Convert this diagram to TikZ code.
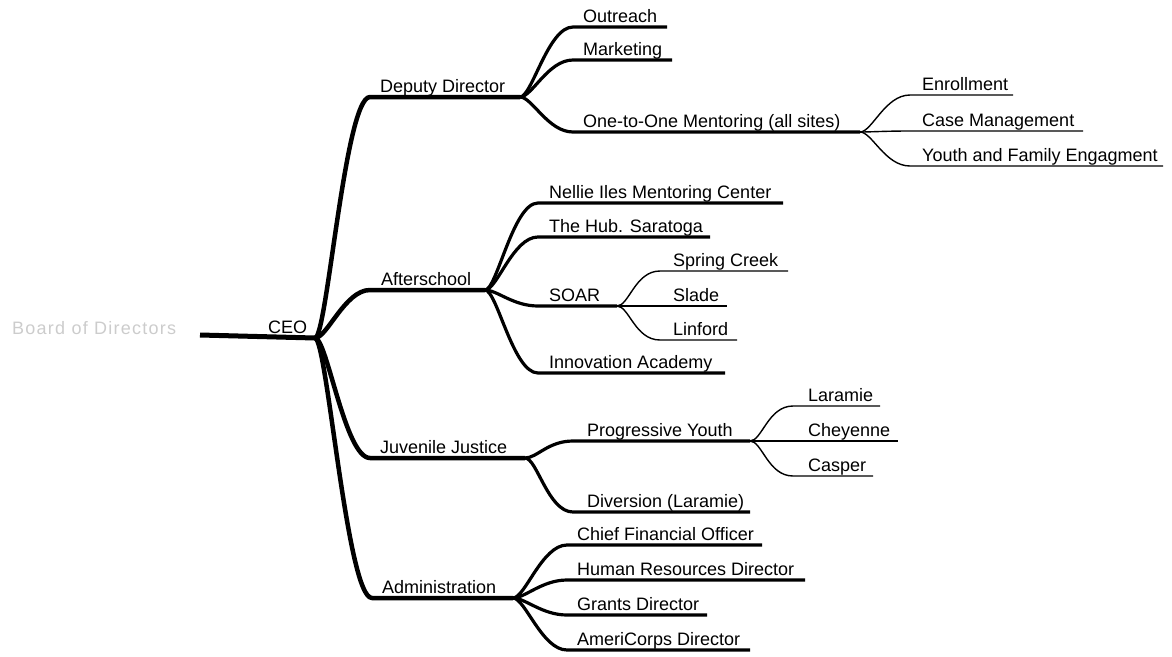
\documentclass[tikz,border=0pt]{standalone}
\usepackage{fontspec}
\setmainfont{Liberation Sans}
% One branch of the mind map: curve from the parent hub, then an underline carrying the label.
% #1 parent, #2 name, #3 x start, #4 x end, #5 y, #6 line style, #7 label, #8 label indent
\newcommand\mmbranch[8]{%
  \coordinate (#2-s) at (#3,#5);
  \coordinate (#2) at (#4,#5);
  \node[lbl] (#2-lbl) at ([xshift=#8pt,yshift=5pt]#2-s) {#7};
  \draw[#6] (#1) .. controls +(12,0) and +(-25,0) .. (#2-s) -- (#2);}
\begin{document}
\begin{tikzpicture}[x=1pt,y=-1pt,
  lbl/.style={inner sep=0pt, anchor=base west, font=\fontsize{18}{20}\selectfont},
  trunk/.style={line width=5pt},
  lvlone/.style={line width=4.5pt, line join=round},
  lvltwo/.style={line width=3.2pt, line join=round},
  lvlthree/.style={line width=1.4pt, line join=round}]
\useasboundingbox (0,0) rectangle (1172,656);

% root
\coordinate (board-s) at (200,335);
\coordinate (ceo) at (315,338);
\node[lbl, text=gray!40] (board) at (12,334) {\addfontfeature{LetterSpace=7}Board of Directors};
\node[lbl] (ceo-lbl) at (268,333) {CEO};
\draw[trunk] (board-s) -- (ceo);

% departments
\mmbranch{ceo}{deputy}{370}{520}{97}{lvlone}{Deputy Director}{10}
\mmbranch{ceo}{after}{370}{485}{290}{lvlone}{Afterschool}{11}
\mmbranch{ceo}{juv}{370}{525}{458}{lvlone}{Juvenile Justice}{10}
\mmbranch{ceo}{admin}{372}{513}{598}{lvlone}{Administration}{10}

% deputy director
\mmbranch{deputy}{outreach}{573}{667}{27}{lvltwo}{Outreach}{10}
\mmbranch{deputy}{marketing}{573}{672}{60}{lvltwo}{Marketing}{10}
\mmbranch{deputy}{oneone}{573}{860}{132}{lvltwo}{One-to-One Mentoring (all sites)}{10}
\mmbranch{oneone}{enroll}{910}{1013}{95}{lvlthree}{Enrollment}{12}
\mmbranch{oneone}{casem}{910}{1083}{131}{lvlthree}{Case Management}{12}
\mmbranch{oneone}{youth}{910}{1163}{166}{lvlthree}{Youth and Family Engagment}{12}

% afterschool
\mmbranch{after}{nellie}{538}{783}{203}{lvltwo}{Nellie Iles Mentoring Center}{11}
\mmbranch{after}{hub}{538}{710}{237}{lvltwo}{The Hub. Saratoga}{11}
\mmbranch{after}{soar}{538}{617}{306}{lvltwo}{SOAR}{11}
\mmbranch{after}{innov}{538}{725}{373}{lvltwo}{Innovation Academy}{11}
\mmbranch{soar}{spring}{660}{788}{271}{lvlthree}{Spring Creek}{13}
\mmbranch{soar}{slade}{660}{727}{306}{lvlthree}{Slade}{13}
\mmbranch{soar}{linford}{660}{737}{340}{lvlthree}{Linford}{13}

% juvenile justice
\mmbranch{juv}{prog}{573}{750}{441}{lvltwo}{Progressive Youth}{14}
\mmbranch{juv}{div}{573}{750}{512}{lvltwo}{Diversion (Laramie)}{14}
\mmbranch{prog}{laramie}{793}{880}{406}{lvlthree}{Laramie}{15}
\mmbranch{prog}{chey}{793}{898}{441}{lvlthree}{Cheyenne}{15}
\mmbranch{prog}{casper}{793}{873}{476}{lvlthree}{Casper}{15}

% administration
\mmbranch{admin}{cfo}{567}{762}{545}{lvltwo}{Chief Financial Officer}{10}
\mmbranch{admin}{hr}{567}{805}{580}{lvltwo}{Human Resources Director}{10}
\mmbranch{admin}{grants}{567}{707}{615}{lvltwo}{Grants Director}{10}
\mmbranch{admin}{ameri}{567}{750}{650}{lvltwo}{AmeriCorps Director}{10}
\end{tikzpicture}
\end{document}
